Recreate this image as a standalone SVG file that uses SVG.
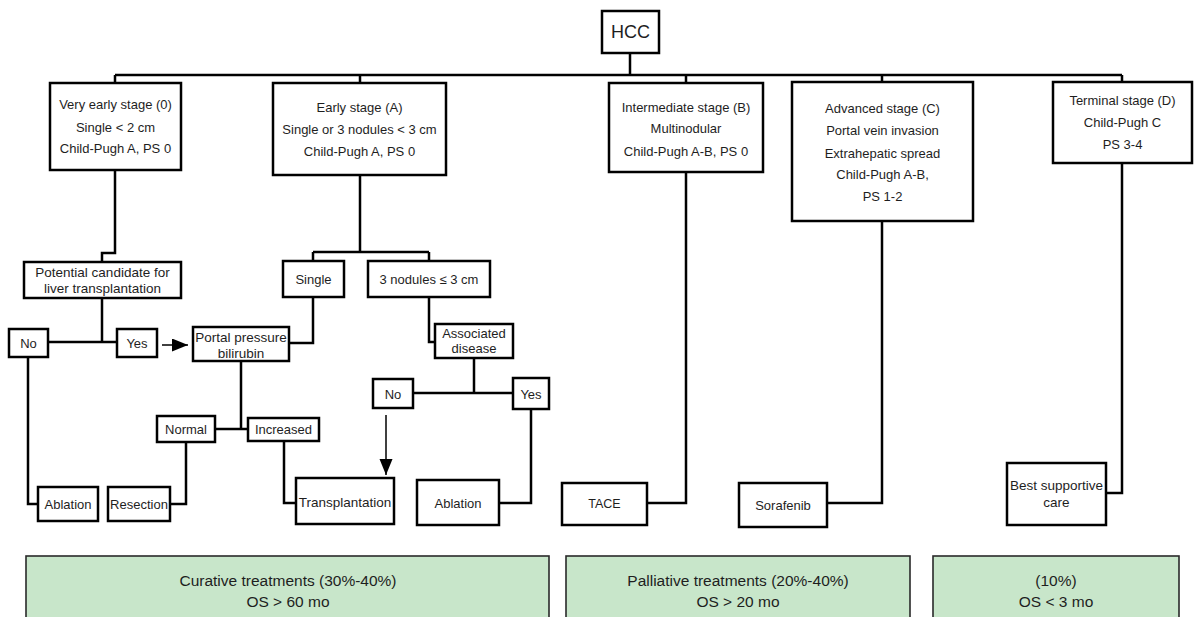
<svg xmlns="http://www.w3.org/2000/svg" width="1201" height="617" viewBox="0 0 1201 617">
<style>
.bx{fill:#fff;stroke:#000;stroke-width:2.5}
.gb{fill:#c8e6ca;stroke:#2a2a2a;stroke-width:1.6}
.t{font-family:"Liberation Sans",Arial,sans-serif;font-size:13px;fill:#1e1e1e;text-anchor:middle;dominant-baseline:central}
.s{font-size:12.5px}
.g{font-size:15.5px}
.c{fill:none;stroke:#000;stroke-width:2.5}
.a{fill:none;stroke:#000;stroke-width:1.5}
</style>
<defs>
<marker id="ah" markerUnits="userSpaceOnUse" markerWidth="17" markerHeight="14" refX="16" refY="6.5" orient="auto">
<path d="M0,0 L16,6.5 L0,13 z" fill="#000"/>
</marker>
</defs>
<rect width="1201" height="617" fill="#fff"/>
<g id="connectors">
<path class="c" d="M630,53 V75 M115,75 H1122 M115,75 V83 M360,75 V83 M686,75 V83 M882,75 V82 M1122,75 V82"/>
<path class="c" d="M115,170 V253 H102 V262"/>
<path class="c" d="M102,298 V342 M48,342 H117"/>
<path class="c" d="M28,357 V504 H38"/>
<path class="c" d="M360,175 V252 M313,252 H429 M313,252 V261 M429,252 V261"/>
<path class="c" d="M313,297 V343 H289"/>
<path class="c" d="M429,297 V342 H435"/>
<path class="c" d="M474,358 V393 M413,393 H513"/>
<path class="c" d="M531,409 V503 H499"/>
<path class="c" d="M241,361 V429 M215,429 H248"/>
<path class="c" d="M284,441 V503 H296"/>
<path class="c" d="M186,442 V504 H170"/>
<path class="c" d="M686,172 V503 H647"/>
<path class="c" d="M882,221 V503 H827"/>
<path class="c" d="M1122,163 V493 H1106"/>
<path class="a" d="M162,345 H188" marker-end="url(#ah)"/>
<path class="a" d="M386,415 V475" marker-end="url(#ah)"/>
</g>
<g id="hcc"><rect class="bx" x="602" y="11" width="57" height="42"/><text class="t" x="630.5" y="32" style="font-size:18px">HCC</text></g>
<g id="stage0"><rect class="bx" x="50" y="83" width="131" height="87"/>
<text class="t" x="115.5" y="104">Very early stage (0)</text><text class="t" x="115.5" y="127">Single &lt; 2 cm</text><text class="t" x="115.5" y="148">Child-Pugh A, PS 0</text></g>
<g id="stageA"><rect class="bx" x="273" y="83" width="173" height="92"/>
<text class="t" x="359.5" y="107">Early stage (A)</text><text class="t" x="359.5" y="129">Single or 3 nodules &lt; 3 cm</text><text class="t" x="359.5" y="151">Child-Pugh A, PS 0</text></g>
<g id="stageB"><rect class="bx" x="609" y="83" width="154" height="89"/>
<text class="t" x="686" y="107">Intermediate stage (B)</text><text class="t" x="686" y="128">Multinodular</text><text class="t" x="686" y="151">Child-Pugh A-B, PS 0</text></g>
<g id="stageC"><rect class="bx" x="792" y="82" width="181" height="139"/>
<text class="t" x="882.5" y="108">Advanced stage (C)</text><text class="t" x="882.5" y="130">Portal vein invasion</text><text class="t" x="882.5" y="153">Extrahepatic spread</text><text class="t" x="882.5" y="174">Child-Pugh A-B,</text><text class="t" x="882.5" y="196">PS 1-2</text></g>
<g id="stageD"><rect class="bx" x="1053" y="82" width="139" height="81"/>
<text class="t" x="1122.5" y="100">Terminal stage (D)</text><text class="t" x="1122.5" y="122">Child-Pugh C</text><text class="t" x="1122.5" y="144">PS 3-4</text></g>
<g id="candidate"><rect class="bx" x="24" y="262" width="157" height="36"/>
<text class="t" x="102.5" y="272" style="font-size:13.5px">Potential candidate for</text><text class="t" x="102.5" y="288" style="font-size:13.5px">liver transplantation</text></g>
<g id="no1"><rect class="bx" x="9" y="329" width="39" height="28"/><text class="t" x="28.5" y="343">No</text></g>
<g id="yes1"><rect class="bx" x="117" y="329" width="40" height="28"/><text class="t" x="137" y="343">Yes</text></g>
<g id="portal"><rect class="bx" x="193" y="327" width="96" height="34"/>
<text class="t" x="241" y="337" style="font-size:13.5px">Portal pressure</text><text class="t" x="241" y="353" style="font-size:13.5px">bilirubin</text></g>
<g id="single"><rect class="bx" x="283" y="261" width="61" height="36"/><text class="t" x="313.5" y="279">Single</text></g>
<g id="nodules"><rect class="bx" x="368" y="261" width="122" height="36"/><text class="t" x="429" y="279">3 nodules ≤ 3 cm</text></g>
<g id="associated"><rect class="bx" x="435" y="324" width="78" height="34"/>
<text class="t" x="474" y="333">Associated</text><text class="t" x="474" y="348">disease</text></g>
<g id="no2"><rect class="bx" x="373" y="379" width="40" height="29"/><text class="t" x="393" y="394">No</text></g>
<g id="yes2"><rect class="bx" x="513" y="378" width="36" height="31"/><text class="t" x="531" y="394">Yes</text></g>
<g id="normal"><rect class="bx" x="157" y="416" width="58" height="26"/><text class="t" x="186" y="429">Normal</text></g>
<g id="increased"><rect class="bx" x="248" y="418" width="71" height="23"/><text class="t" x="283.5" y="429.5">Increased</text></g>
<g id="ablation1"><rect class="bx" x="38" y="487" width="60" height="34"/><text class="t" x="68" y="504">Ablation</text></g>
<g id="resection"><rect class="bx" x="108" y="487" width="62" height="34"/><text class="t" x="139" y="504">Resection</text></g>
<g id="transplantation"><rect class="bx" x="296" y="478" width="98" height="46"/><text class="t" x="345" y="502" style="font-size:13.5px">Transplantation</text></g>
<g id="ablation2"><rect class="bx" x="417" y="480" width="82" height="45"/><text class="t" x="458" y="503">Ablation</text></g>
<g id="tace"><rect class="bx" x="562" y="483" width="85" height="42"/><text class="t s" x="604.5" y="504">TACE</text></g>
<g id="sorafenib"><rect class="bx" x="739" y="483" width="88" height="44"/><text class="t" x="783" y="505">Sorafenib</text></g>
<g id="bsc"><rect class="bx" x="1007" y="463" width="99" height="62"/>
<text class="t" x="1056.5" y="485" style="font-size:13.5px">Best supportive</text><text class="t" x="1056.5" y="502" style="font-size:13.5px">care</text></g>
<g id="curative"><rect class="gb" x="26" y="556" width="523" height="70"/>
<text class="t g" x="288" y="580">Curative treatments (30%-40%)</text><text class="t g" x="288" y="601">OS &gt; 60 mo</text></g>
<g id="palliative"><rect class="gb" x="566" y="556" width="344" height="70"/>
<text class="t g" x="738" y="580">Palliative treatments (20%-40%)</text><text class="t g" x="738" y="601">OS &gt; 20 mo</text></g>
<g id="terminal-outcome"><rect class="gb" x="933" y="556" width="246" height="70"/>
<text class="t g" x="1056" y="580">(10%)</text><text class="t g" x="1056" y="601">OS &lt; 3 mo</text></g>
</svg>
